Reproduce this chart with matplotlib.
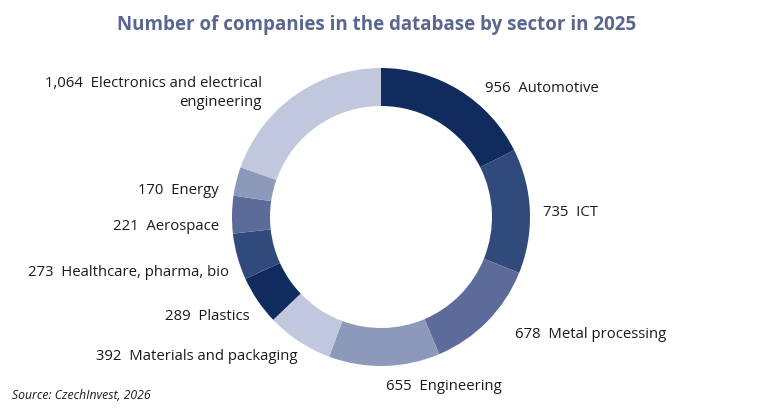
import matplotlib
matplotlib.use("Agg")
import matplotlib.pyplot as plt

# ---- data ----
sectors = ["Automotive", "ICT", "Metal processing", "Engineering",
           "Materials and packaging", "Plastics", "Healthcare, pharma, bio",
           "Aerospace", "Energy", "Electronics and electrical\nengineering"]
counts = [956, 735, 678, 655, 392, 289, 273, 221, 170, 1064]
title = "Number of companies in the database by sector in 2025"
source = "Source: CzechInvest, 2026"

# ---- style ----
palette = ["#102c5e", "#2f4a7b", "#5c6b9a", "#8d99bb", "#c1c8dd"]
colors = [palette[i % 5] for i in range(len(counts))]
W, H = 760, 415
plt.rcParams['font.family'] = ['Open Sans', 'DejaVu Sans']

fig = plt.figure(figsize=(W / 100, H / 100), dpi=100)
ax = fig.add_axes([0, 0, 1, 1])

cx, cy, R = 381, H - 217, 149
ax.pie(counts, colors=colors, startangle=90, counterclock=False,
       center=(cx, cy), radius=R, frame=True,
       wedgeprops=dict(width=38, linewidth=0))
ax.set_xlim(0, W)
ax.set_ylim(0, H)
ax.axis("off")

# label anchor positions in pixel coords (x, y_from_top, ha)
label_pos = [(485, 88, "left"), (543, 212, "left"), (515, 335, "left"),
             (386, 386, "left"), (297, 357, "right"), (250, 316, "right"),
             (229, 272, "right"), (219, 226, "right"), (219, 190, "right"),
             (262, 93, "right")]

for s, c, (x, y, ha) in zip(sectors, counts, label_pos):
    ax.text(x, H - y, f"{c:,}  {s}", ha=ha, va="center", fontsize=10.7,
            color="#1a1a1a", linespacing=1.3, multialignment="right")

fig.text(377 / W, 1 - 25 / H, title, ha="center", va="center",
         fontsize=13.5, fontweight="bold", color="#5a6690")
fig.text(12 / W, 1 - 395 / H, source, ha="left", va="center",
         fontsize=8.8, style="italic", color="#1a1a1a")

fig.savefig("out.png", dpi=100, facecolor="white")
